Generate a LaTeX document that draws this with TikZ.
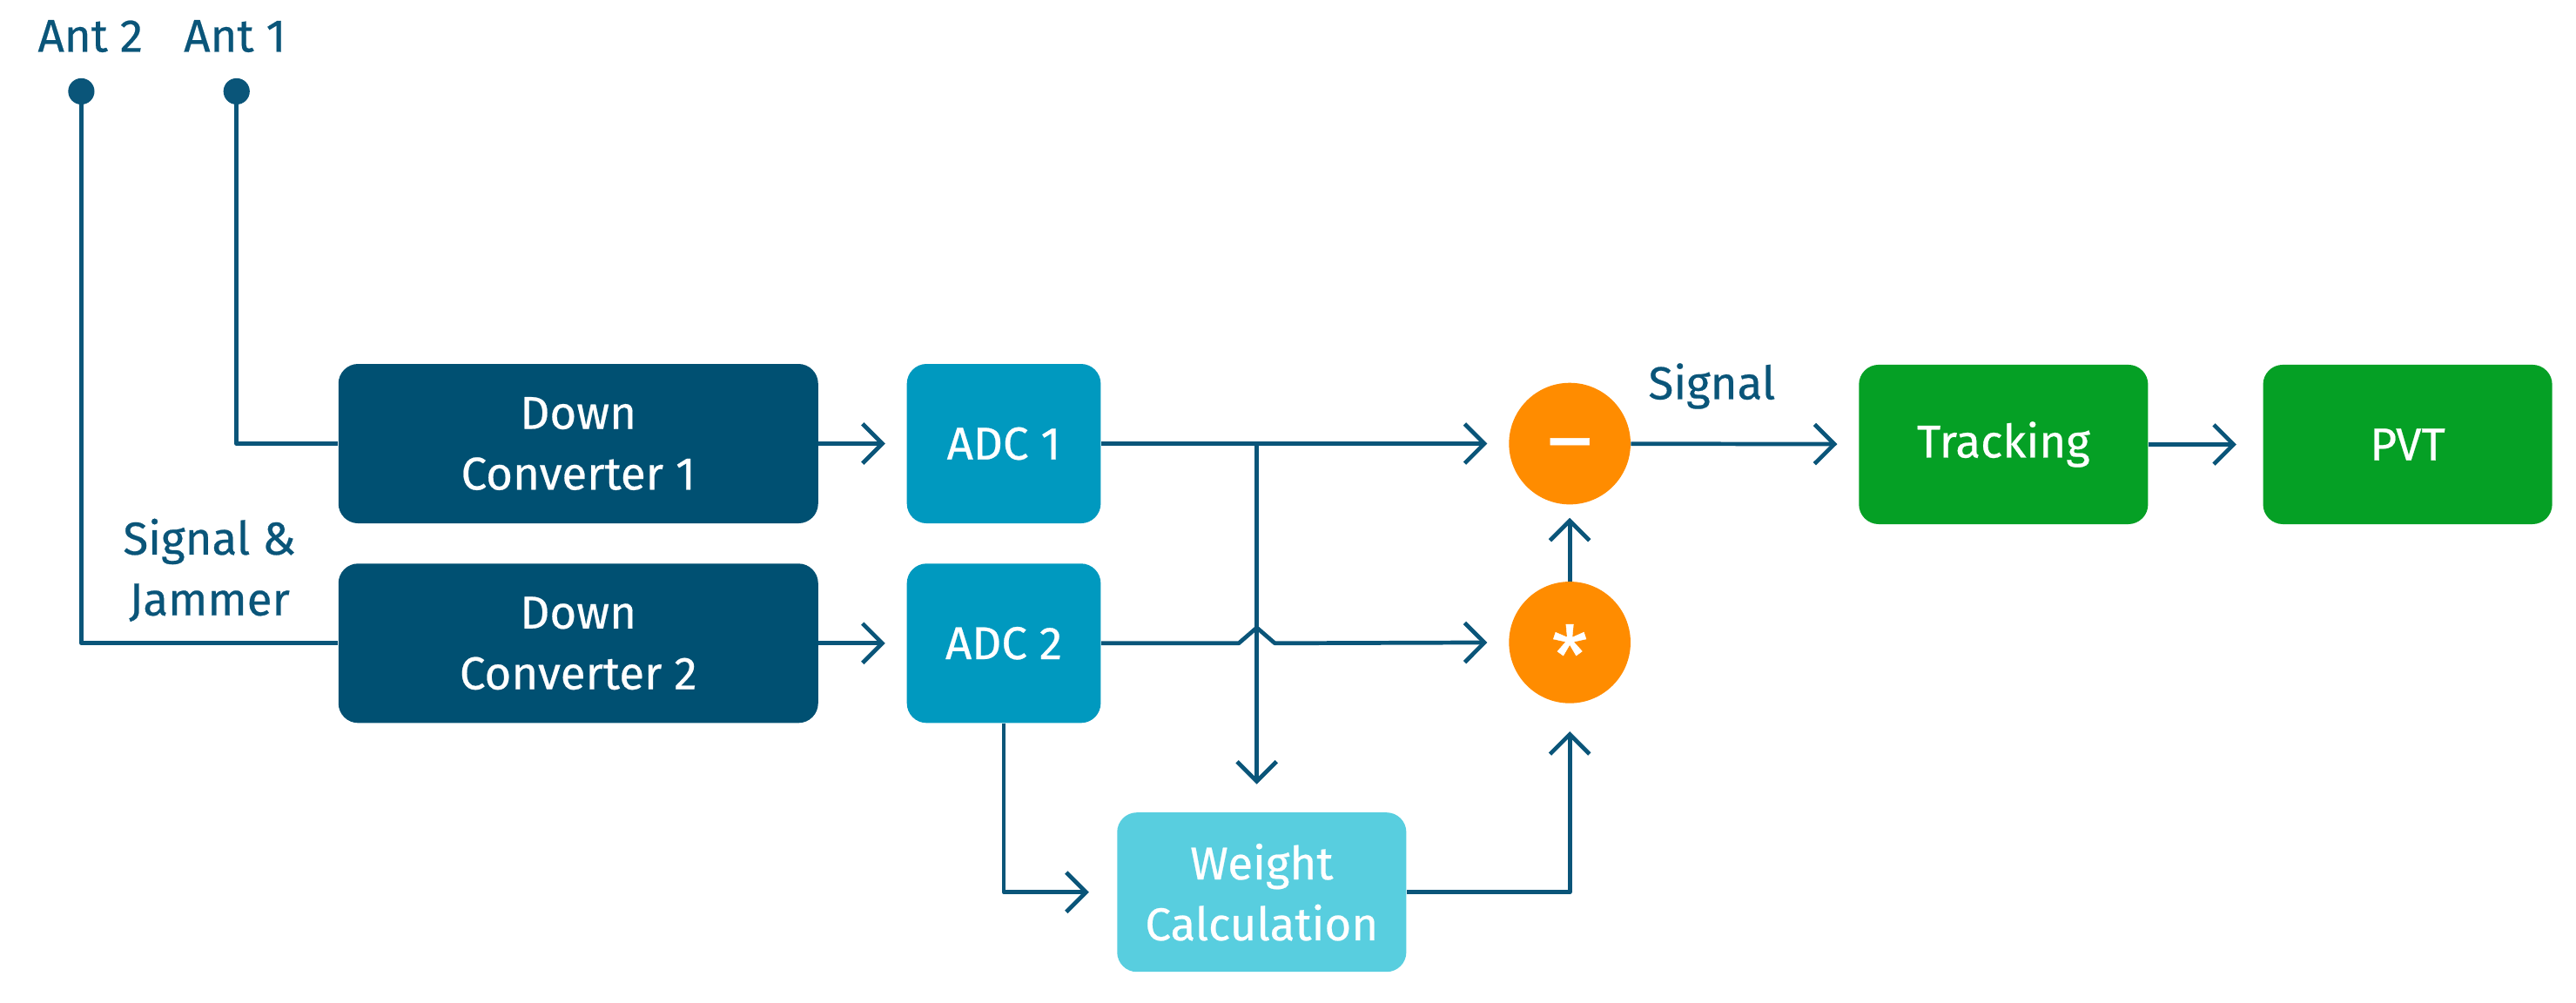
\documentclass[tikz,border=0pt]{standalone}
\usepackage{fontspec}
\setmainfont{Fira Sans}[FakeBold=0.45]
\usetikzlibrary{arrows.meta,calc}
\definecolor{navy}{HTML}{005072}
\definecolor{lineblue}{HTML}{0A5579}
\definecolor{adcblue}{HTML}{0099BF}
\definecolor{wcyan}{HTML}{58CEDF}
\definecolor{orng}{HTML}{FF8C00}
\definecolor{grn}{HTML}{05A025}
\begin{document}
\begin{tikzpicture}[x=1pt,y=-1pt,
  txt/.style={font=\fontsize{28}{37}\selectfont},
  box/.style={txt, rounded corners=12pt, text=white, align=center, inner sep=0pt},
  dcbox/.style={box, fill=navy, minimum width=292pt, minimum height=97pt},
  adcbox/.style={box, fill=adcblue, minimum width=118pt, minimum height=97pt},
  wcbox/.style={box, fill=wcyan, minimum width=176pt, minimum height=97pt},
  gbox/.style={box, fill=grn, minimum width=176pt, minimum height=97pt},
  op/.style={circle, fill=orng, minimum size=74pt, inner sep=0pt, text=white},
  lbl/.style={txt, text=lineblue, align=center, inner sep=0pt},
  dot/.style={circle, fill=lineblue, minimum size=16pt, inner sep=0pt},
  ln/.style={draw=lineblue, line width=2.5pt, line join=round},
  arr/.style={ln, -{Straight Barb[length=12pt,width=24pt,line width=2.5pt]}, shorten >=13pt},
]
\useasboundingbox (0,0) rectangle (1568,610.45);

% nodes
\node[dcbox] (dc1) at (352,270) {Down\\Converter 1};
\node[dcbox] (dc2) at (352,391.5) {Down\\Converter 2};
\node[adcbox] (adc1) at (611,270) {ADC 1};
\node[adcbox] (adc2) at (611,391.5) {ADC 2};
\node[wcbox] (wc) at (768,543) {Weight\\Calculation};
\node[op, font=\fontsize{52}{52}\selectfont] (minus) at (955.5,270) {\smash{\raisebox{-0.29em}{–}}};
\node[op, font=\fontsize{50}{50}\selectfont] (star) at (955.5,391) {\smash{\raisebox{-0.52em}{*}}};
\node[gbox] (trk) at (1219.5,270.5) {Tracking};
\node[gbox] (pvt) at (1465.5,270.5) {PVT};

\node[lbl] (ant2) at (55,22) {Ant 2};
\node[lbl] (ant1) at (143,22) {Ant 1};
\node[lbl] (sig) at (1042,235) {Signal};
\node[lbl] (sj) at (127.5,347) {Signal \&\\Jammer};

\node[dot] (d2) at (49.5,55.6) {};
\node[dot] (d1) at (144,55.6) {};

% connectors
\draw[ln] (d1.center) |- (dc1.west);
\draw[ln] (d2.center) |- (dc2.west);
\draw[arr] (dc1) -- (adc1);
\draw[arr] (dc2) -- (adc2);
\draw[arr] (adc1) -- (minus);
\coordinate (j) at (765,270);
\draw[arr, shorten >=17pt] (j) -- (j |- wc.north);
\coordinate (h) at (j |- adc2);
\draw[arr] (adc2.east) -- ([xshift=-11pt]h) -- ++(11,-9.5) -- ++(11,9.5) -- (star.west);
\draw[arr, shorten >=17pt] (adc2.south) |- (wc.west);
\draw[arr, shorten >=17pt] (wc.east) -| (star.south);
\draw[arr, shorten >=8pt] (star.north) -- (minus.south);
\draw[arr] (minus) -- (trk);
\draw[arr, shorten >=16pt] (trk) -- (pvt);
\end{tikzpicture}
\end{document}
